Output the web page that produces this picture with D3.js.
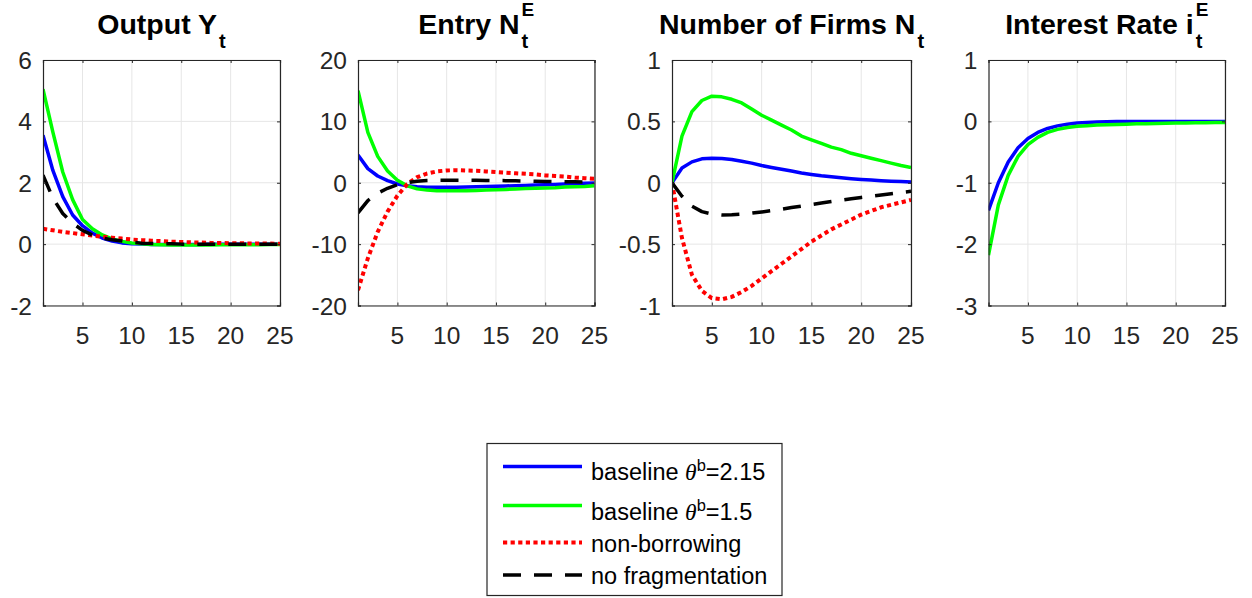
<!DOCTYPE html>
<html>
<head>
<meta charset="utf-8">
<script src="https://cdn.jsdelivr.net/npm/d3@7"></script>
<style>
  html, body { margin: 0; padding: 0; background: #fff; }
  svg { display: block; }
  text { font-family: "Liberation Sans", Arial, Helvetica, sans-serif; }
</style>
</head>
<body>
<svg id="chart" width="1252" height="598"></svg>
<script>
// ---------------- DATA ----------------
const periods = [1,2,3,4,5,6,7,8,9,10,11,12,13,14,15,16,17,18,19,20,21,22,23,24,25];

const seriesNames = ["baseline θ^b=2.15", "baseline θ^b=1.5", "non-borrowing", "no fragmentation"];

// Output Y_t
const outputBaseline215 = [3.55,2.4,1.55,0.95,0.6,0.36,0.2,0.1,0.04,0.01,0.0,-0.01,-0.01,-0.01,-0.01,-0.01,-0.01,0,0,0,0,0,0,0,0];
const outputBaseline15  = [5.05,3.65,2.35,1.45,0.8,0.5,0.3,0.17,0.09,0.04,0.01,-0.01,-0.02,-0.03,-0.03,-0.03,-0.03,-0.03,-0.02,-0.02,-0.02,-0.02,-0.02,-0.01,-0.01];
const outputNonBorrow   = [0.5,0.45,0.4,0.36,0.32,0.28,0.24,0.21,0.18,0.15,0.13,0.11,0.1,0.08,0.07,0.06,0.05,0.04,0.04,0.03,0.03,0.02,0.02,0.02,0.01];
const outputNoFrag      = [2.25,1.5,1.0,0.68,0.45,0.3,0.2,0.14,0.1,0.06,0.03,0.02,0.01,0.01,0,0,0,0,0,0,0,0,0,0,0];

// Entry N^E_t
const entryBaseline215 = [4.5,2.3,1.1,0.35,-0.2,-0.5,-0.65,-0.72,-0.75,-0.75,-0.73,-0.7,-0.66,-0.62,-0.58,-0.53,-0.48,-0.43,-0.38,-0.33,-0.28,-0.22,-0.16,-0.1,-0.05];
const entryBaseline15  = [15,8.2,4.3,1.9,0.4,-0.5,-1.0,-1.2,-1.3,-1.3,-1.3,-1.3,-1.25,-1.2,-1.15,-1.1,-1.0,-0.95,-0.9,-0.85,-0.8,-0.7,-0.65,-0.6,-0.5];
const entryNonBorrow   = [-17.5,-12.3,-8.0,-4.7,-2.1,-0.2,0.9,1.5,1.85,2.0,2.05,2.0,1.95,1.85,1.75,1.65,1.55,1.45,1.35,1.2,1.1,1.0,0.85,0.75,0.65];
const entryNoFrag      = [-4.9,-2.9,-1.7,-0.9,-0.3,0.05,0.25,0.35,0.4,0.42,0.42,0.41,0.4,0.38,0.36,0.34,0.31,0.28,0.25,0.22,0.2,0.17,0.15,0.13,0.1];

// Number of Firms N_t
const firmsBaseline215 = [0,0.12,0.17,0.195,0.2,0.198,0.19,0.175,0.16,0.14,0.125,0.11,0.095,0.08,0.068,0.057,0.048,0.04,0.033,0.027,0.022,0.017,0.013,0.01,0.007];
const firmsBaseline15  = [0,0.38,0.58,0.67,0.705,0.7,0.68,0.65,0.6,0.55,0.51,0.47,0.43,0.38,0.35,0.32,0.29,0.27,0.24,0.22,0.2,0.18,0.16,0.14,0.125];
const firmsNonBorrow   = [0,-0.45,-0.75,-0.88,-0.94,-0.95,-0.93,-0.89,-0.84,-0.78,-0.72,-0.66,-0.6,-0.54,-0.48,-0.43,-0.38,-0.34,-0.3,-0.26,-0.23,-0.2,-0.18,-0.16,-0.14];
const firmsNoFrag      = [0,-0.11,-0.19,-0.235,-0.255,-0.262,-0.26,-0.255,-0.248,-0.238,-0.227,-0.215,-0.202,-0.19,-0.177,-0.165,-0.153,-0.141,-0.13,-0.12,-0.11,-0.1,-0.09,-0.08,-0.07];

// Interest Rate i^E_t
const rateBaseline215 = [-1.45,-1.0,-0.66,-0.43,-0.28,-0.18,-0.115,-0.073,-0.046,-0.028,-0.017,-0.01,-0.006,-0.003,-0.002,-0.001,0,0,0,0,0,0,0,0,0];
const rateBaseline15  = [-2.18,-1.36,-0.88,-0.57,-0.38,-0.26,-0.18,-0.13,-0.1,-0.08,-0.07,-0.06,-0.055,-0.05,-0.045,-0.04,-0.037,-0.034,-0.031,-0.028,-0.026,-0.024,-0.022,-0.02,-0.02];

const xTicks = [5,10,15,20,25];
const outputTicks = [-2,0,2,4,6];
const entryTicks = [-20,-10,0,10,20];
const firmsTicks = [-1,-0.5,0,0.5,1];
const rateTicks = [-3,-2,-1,0,1];

// ---------------- STYLES ----------------
const styles = [
  {color:"#0000ff", dash:null},
  {color:"#00ff00", dash:null},
  {color:"#ff0000", dash:"4.2,3.4"},
  {color:"#000000", dash:"18,13"}
];

const panels = [
  {title:"Output Y", sup:null, sub:"t", x0:43, x1:280, yDomain:[-2,6], ticks:outputTicks,
   series:[outputBaseline215, outputBaseline15, outputNonBorrow, outputNoFrag]},
  {title:"Entry N", sup:"E", sub:"t", x0:358, x1:594.5, yDomain:[-20,20], ticks:entryTicks,
   series:[entryBaseline215, entryBaseline15, entryNonBorrow, entryNoFrag]},
  {title:"Number of Firms N", sup:null, sub:"t", x0:672, x1:911, yDomain:[-1,1], ticks:firmsTicks,
   series:[firmsBaseline215, firmsBaseline15, firmsNonBorrow, firmsNoFrag]},
  {title:"Interest Rate i", sup:"E", sub:"t", x0:988.5, x1:1225, yDomain:[-3,1], ticks:rateTicks,
   series:[rateBaseline215, rateBaseline15]}
];

const yTop = 60, yBot = 305.5;
const axisColor = "#262626";
const svg = d3.select("#chart");

panels.forEach((p, pi) => {
  const x = d3.scaleLinear().domain([1,25]).range([p.x0, p.x1]);
  const y = d3.scaleLinear().domain(p.yDomain).range([yBot, yTop]);
  const g = svg.append("g");

  // grid
  g.selectAll(".gx").data(xTicks).enter().append("line")
    .attr("x1", d => x(d)).attr("x2", d => x(d))
    .attr("y1", yTop).attr("y2", yBot)
    .attr("stroke", "#e6e6e6").attr("stroke-width", 1);
  g.selectAll(".gy").data(p.ticks).enter().append("line")
    .attr("x1", p.x0).attr("x2", p.x1)
    .attr("y1", d => y(d)).attr("y2", d => y(d))
    .attr("stroke", "#e6e6e6").attr("stroke-width", 1);

  // clip
  const clipId = "clip" + pi;
  svg.append("clipPath").attr("id", clipId).append("rect")
    .attr("x", p.x0).attr("y", yTop - 2).attr("width", p.x1 - p.x0).attr("height", yBot - yTop + 4);

  // lines
  const line = d3.line().x((d,i) => x(periods[i])).y(d => y(d));
  p.series.forEach((s, si) => {
    const st = styles[si];
    g.append("path")
      .attr("d", line(s))
      .attr("fill", "none")
      .attr("stroke", st.color)
      .attr("stroke-width", si === 2 ? 4 : 3.5)
      .attr("stroke-linejoin", "round")
      .attr("stroke-dasharray", st.dash)
      .attr("clip-path", `url(#${clipId})`);
  });

  // axes with inward ticks (box)
  const xAxisB = d3.axisBottom(x).tickValues(xTicks).tickSize(-3).tickFormat("");
  const xAxisT = d3.axisTop(x).tickValues(xTicks).tickSize(-3).tickFormat("");
  const yAxisL = d3.axisLeft(y).tickValues(p.ticks).tickSize(-3).tickFormat("");
  const yAxisR = d3.axisRight(y).tickValues(p.ticks).tickSize(-3).tickFormat("");
  [[xAxisB, `translate(0,${yBot})`], [xAxisT, `translate(0,${yTop})`],
   [yAxisL, `translate(${p.x0},0)`], [yAxisR, `translate(${p.x1},0)`]].forEach(([ax, tr]) => {
    const a = g.append("g").attr("transform", tr).call(ax);
    a.select(".domain").attr("stroke", axisColor).attr("stroke-width", 1.2);
    a.selectAll(".tick line").attr("stroke", axisColor).attr("stroke-width", 1);
  });

  // tick labels
  g.selectAll(".xl").data(xTicks).enter().append("text")
    .attr("x", d => x(d)).attr("y", 344)
    .attr("text-anchor", "middle")
    .attr("font-size", "24.5px").attr("fill", axisColor)
    .text(d => d);
  g.selectAll(".yl").data(p.ticks).enter().append("text")
    .attr("x", p.x0 - 11).attr("y", d => y(d) + 9)
    .attr("text-anchor", "end")
    .attr("font-size", "24.5px").attr("fill", axisColor)
    .text(d => d);

  // title
  const cx = (p.x0 + p.x1) / 2;
  const tg = g.append("g");
  const main = tg.append("text").attr("y", 33.5).attr("font-size", "28.5px").attr("font-weight", "bold")
    .attr("fill", "#000").text(p.title);
  const mw = main.node().getComputedTextLength();
  let extra = 0;
  let supT, subT;
  if (p.sup) {
    supT = tg.append("text").attr("y", 15.5).attr("font-size", "19px").attr("font-weight", "bold").text(p.sup);
    extra = Math.max(extra, supT.node().getComputedTextLength());
  }
  if (p.sub) {
    subT = tg.append("text").attr("y", 47.5).attr("font-size", "20px").attr("font-weight", "bold").text(p.sub);
    extra = Math.max(extra, subT.node().getComputedTextLength());
  }
  const total = mw + 2 + extra;
  const startX = cx - total / 2;
  main.attr("x", startX);
  if (supT) supT.attr("x", startX + mw + 2);
  if (subT) subT.attr("x", startX + mw + 2);
});

// ---------------- LEGEND ----------------
const leg = svg.append("g");
leg.append("rect").attr("x", 487).attr("y", 443.5).attr("width", 295).attr("height", 152)
  .attr("fill", "#fff").attr("stroke", axisColor).attr("stroke-width", 1.2);

const legendRows = [
  {lineY:466.5, textY:480},
  {lineY:505.5, textY:520},
  {lineY:542.5, textY:551.5},
  {lineY:575, textY:584}
];
const legX = d3.scaleLinear().domain([0,1]).range([503, 582]);

seriesNames.forEach((name, i) => {
  const st = styles[i];
  const r = legendRows[i];
  leg.append("line")
    .attr("x1", legX(0)).attr("x2", legX(1))
    .attr("y1", r.lineY).attr("y2", r.lineY)
    .attr("stroke", st.color).attr("stroke-width", i === 2 ? 4 : 3.5)
    .attr("stroke-dasharray", st.dash);
  const t = leg.append("text").attr("x", 591).attr("y", r.textY)
    .attr("font-size", "23.5px").attr("fill", "#000");
  if (name.indexOf("θ^b") >= 0) {
    const parts = name.split("θ^b");
    t.append("tspan").text(parts[0]);
    t.append("tspan").attr("font-family", "'Liberation Serif', 'DejaVu Serif', serif")
      .attr("font-style", "italic").text("θ");
    t.append("tspan").attr("font-size", "16.5px").attr("dy", -9.5).text("b");
    t.append("tspan").attr("dy", 9.5).text(parts[1]);
  } else {
    t.text(name);
  }
});
</script>
</body>
</html>
